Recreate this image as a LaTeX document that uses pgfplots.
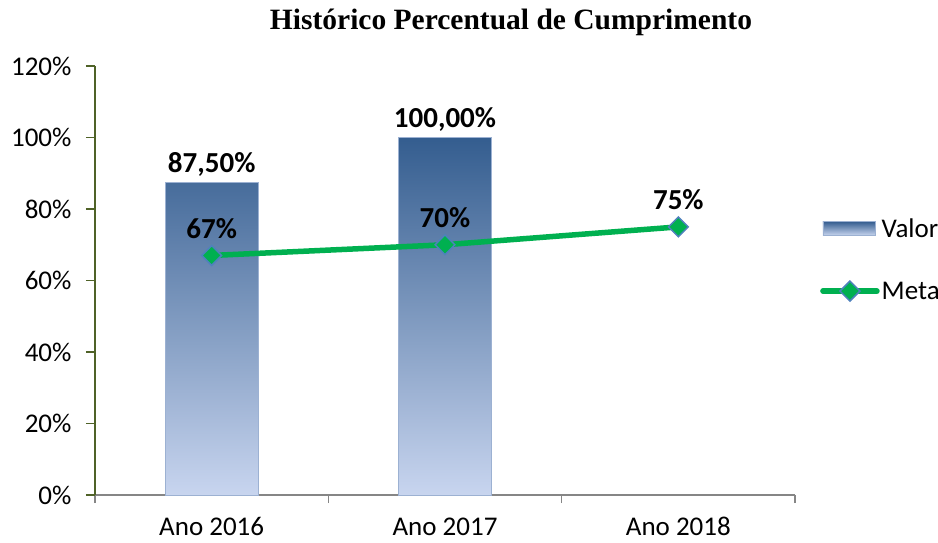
\documentclass[border=0pt]{standalone}
\usepackage{pgfplots}
\pgfplotsset{compat=1.18}
\usepackage{fontspec}
\setmainfont{Carlito}
\newfontfamily\titlefont{Liberation Serif}
\definecolor{bartop}{HTML}{345D8F}
\definecolor{barmid}{HTML}{6B8BB6}
\definecolor{barbot}{HTML}{C8D5EF}
\definecolor{linegreen}{HTML}{00B050}
\definecolor{markedge}{HTML}{4F81BD}
\definecolor{yaxis}{HTML}{4F6228}
\definecolor{xaxis}{HTML}{868686}
\begin{document}
\begin{tikzpicture}[x=1pt,y=1pt]
\path[use as bounding box] (0,0) rectangle (938,542);
\node[font=\titlefont\bfseries\fontsize{29.5}{32}\selectfont] at (511,520) {Histórico Percentual de Cumprimento};
\begin{axis}[
  at={(95pt,47pt)}, anchor=south west,
  scale only axis, width=700pt, height=429pt,
  xmin=-0.5, xmax=2.5, ymin=0, ymax=120,
  axis lines*=left,
  x axis line style={draw=xaxis, line width=1.2pt},
  y axis line style={draw=yaxis, line width=1.2pt},
  xtick={0,1,2},
  xticklabels={Ano 2016, Ano 2017, Ano 2018},
  minor xtick={-0.5,0.5,1.5,2.5},
  major x tick style={draw=none},
  minor x tick style={draw=xaxis, line width=1.2pt},
  minor tick length=8pt,
  ytick={0,20,...,120},
  yticklabel={\pgfmathprintnumber{\tick}\%},
  y tick style={draw=yaxis, line width=1.2pt},
  major tick length=9pt,
  tick align=outside,
  tick label style={font=\fontsize{27}{29}\selectfont},
  /pgf/number format/assume math mode=true,
  xticklabel style={yshift=-10pt},
  yticklabel style={xshift=-11pt},
  clip=false,
  legend style={at={(1,0.549)}, anchor=west, xshift=25pt, draw=none, fill=none,
    font=\fontsize{27}{29}\selectfont, row sep=39pt, inner sep=0pt,
    cells={anchor=west}},
  legend cell align=left,
]
\addplot[ybar, bar width=93pt, draw=barbot!70!bartop, line width=0.6pt,
  top color=bartop, middle color=barmid, bottom color=barbot,
  point meta=explicit symbolic,
  nodes near coords, nodes near coords style={font=\bfseries\fontsize{29}{30}\selectfont, anchor=south, yshift=2pt},
  legend image code/.code={\shade[top color=bartop, bottom color=barbot] (0pt,-7pt) rectangle (52pt,7pt);}
] coordinates {(0,87.5) [87,50\%] (1,100) [100,00\%]};
\addlegendentry{Valor}
\addplot[linegreen, line width=5.5pt, mark=square*, mark size=7pt,
  mark options={fill=linegreen, draw=markedge, line width=1.5pt, rotate=45},
  point meta=explicit symbolic,
  nodes near coords, nodes near coords style={font=\bfseries\fontsize{29}{30}\selectfont, anchor=south, yshift=13pt, text=black},
  legend image code/.code={\draw[linegreen, line width=5.5pt, line cap=round] (0pt,0pt) -- (54pt,0pt);
    \filldraw[draw=markedge, fill=linegreen, line width=1.5pt] (27pt,10pt) -- (37pt,0pt) -- (27pt,-10pt) -- (17pt,0pt) -- cycle;}
] coordinates {(0,67) [67\%] (1,70) [70\%] (2,75) [75\%]};
\addlegendentry{Meta}
\end{axis}
\end{tikzpicture}
\end{document}
